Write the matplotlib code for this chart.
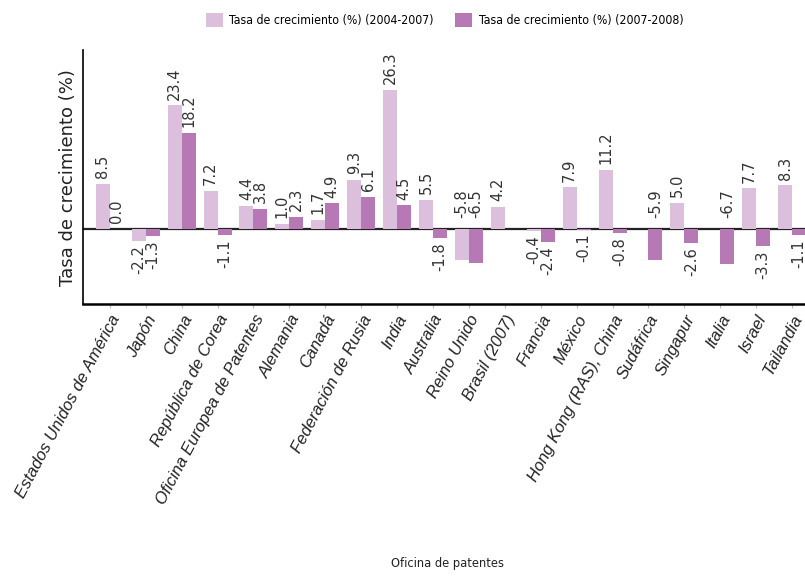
import numpy as np
import matplotlib
matplotlib.use("Agg")
import matplotlib.pyplot as plt
from matplotlib.patches import Patch
from matplotlib import font_manager

# Oficinas de patentes y tasas de crecimiento (%)
oficinas = ["Estados Unidos de América", "Japón", "China", "República de Corea",
            "Oficina Europea de Patentes", "Alemania", "Canadá", "Federación de Rusia",
            "India", "Australia", "Reino Unido", "Brasil (2007)", "Francia", "México",
            "Hong Kong (RAS), China", "Sudáfrica", "Singapur", "Italia", "Israel",
            "Tailandia"]
tasa_2004_2007 = [8.5, -2.2, 23.4, 7.2, 4.4, 1.0, 1.7, 9.3, 26.3, 5.5,
                  -5.8, 4.2, -0.4, 7.9, 11.2, np.nan, 5.0, np.nan, 7.7, 8.3]
tasa_2007_2008 = [0.0, -1.3, 18.2, -1.1, 3.8, 2.3, 4.9, 6.1, 4.5, -1.8,
                  -6.5, np.nan, -2.4, -0.1, -0.8, -5.9, -2.6, -6.7, -3.3, -1.1]
series = ["Tasa de crecimiento (%) (2004-2007)", "Tasa de crecimiento (%) (2007-2008)"]

c_claro = "#dbbfdc"
c_oscuro = "#b679b6"

# fuente estrecha para leyenda y titulo del eje x
narrow = font_manager.FontProperties(family="DejaVu Sans", stretch="condensed", size=8.8)

fig = plt.figure(figsize=(8.05, 5.77), dpi=100)
ax = fig.add_axes([0.103, 0.473, 0.897, 0.440])

x = np.arange(len(oficinas))
w = 0.39

ax.axhline(0, color="#222222", lw=1.6, zorder=1)
for vals, off, col in [(tasa_2004_2007, -w / 2, c_claro), (tasa_2007_2008, w / 2, c_oscuro)]:
    vals = np.array(vals, dtype=float)
    ok = ~np.isnan(vals)
    ax.bar(x[ok] + off, vals[ok], width=w, color=col, zorder=2)
    # etiquetas de valor
    for xi, v in zip(x[ok] + off, vals[ok]):
        txt = f"{v:.1f}"
        if v >= 0:
            ax.annotate(txt, (xi, v), xytext=(0, 4), textcoords="offset points",
                        rotation=90, ha="center", va="bottom", fontsize=10.5,
                        color="#333333")
        elif v < -5:
            ax.annotate(txt, (xi, 0), xytext=(0, 8), textcoords="offset points",
                        rotation=90, ha="center", va="bottom", fontsize=10.5,
                        color="#333333")
        else:
            ax.annotate(txt, (xi, v), xytext=(0, -3), textcoords="offset points",
                        rotation=90, ha="center", va="top", fontsize=10.5,
                        color="#333333")

ax.set_xlim(-0.75, 19.36)
ax.set_ylim(-14.2, 33.8)
ax.set_xticks(x)
ax.set_xticklabels(oficinas, rotation=62, ha="right", rotation_mode="anchor",
                   fontsize=12, style="italic", family="Liberation Sans", color="#222222")
ax.tick_params(axis="x", length=3, color="#bbbbbb", pad=3)
ax.set_yticks([])
ax.spines["top"].set_visible(False)
ax.spines["right"].set_visible(False)
ax.spines["left"].set_linewidth(1.2)
ax.spines["bottom"].set_linewidth(1.8)
ax.set_ylabel("Tasa de crecimiento (%)", fontsize=13, labelpad=4, color="#222222")

xl = narrow.copy()
xl.set_size(9.2)
fig.text(0.556, 0.024, "Oficina de patentes", ha="center", va="center",
         fontproperties=xl, color="#222222")

handles = [Patch(facecolor=c_claro), Patch(facecolor=c_oscuro)]
fig.legend(handles, series, loc="center", bbox_to_anchor=(0.552, 0.965), ncol=2,
           frameon=False, prop=narrow, handlelength=1.4,
           handleheight=1.3, columnspacing=1.8, handletextpad=0.5)

fig.savefig("out.png", dpi=100)
